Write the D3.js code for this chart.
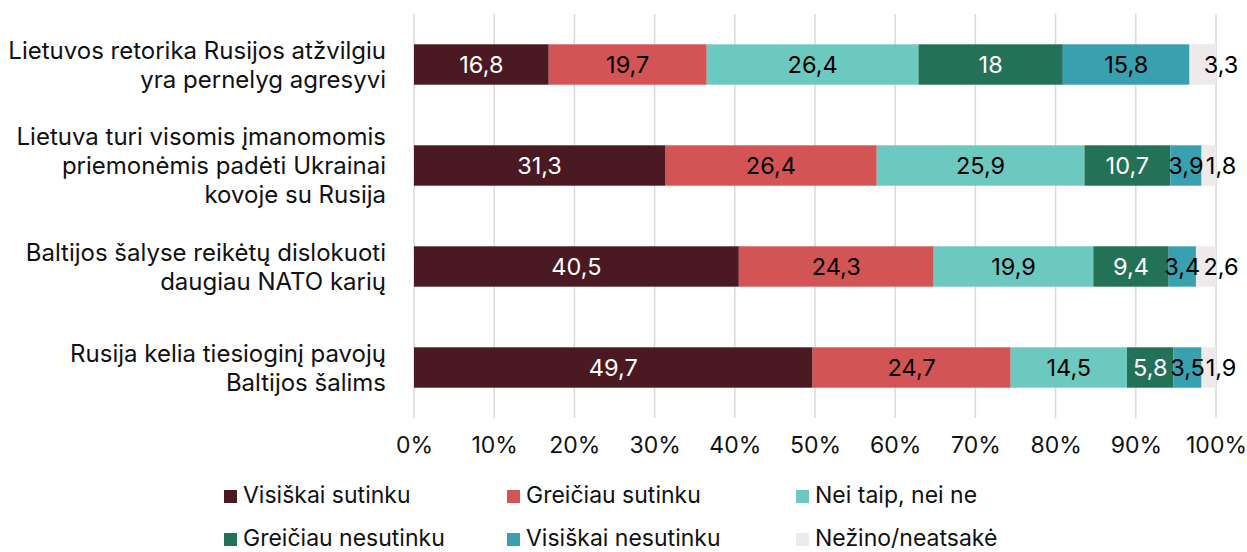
<!DOCTYPE html>
<html>
<head>
<meta charset="utf-8">
<script src="https://cdn.jsdelivr.net/npm/d3@7"></script>
<style>
  html, body { margin: 0; padding: 0; background: #fff; }
  svg { display: block; font-family: Inter, "Noto Sans", sans-serif; }
</style>
</head>
<body>
<svg id="chart" width="1247" height="552"></svg>
<script>
const categories = [
  ["Lietuvos retorika Rusijos atžvilgiu", "yra pernelyg agresyvi"],
  ["Lietuva turi visomis įmanomomis", "priemonėmis padėti Ukrainai", "kovoje su Rusija"],
  ["Baltijos šalyse reikėtų dislokuoti", "daugiau NATO karių"],
  ["Rusija kelia tiesioginį pavojų", "Baltijos šalims"]
];
const seriesNames = ["Visiškai sutinku", "Greičiau sutinku", "Nei taip, nei ne", "Greičiau nesutinku", "Visiškai nesutinku", "Nežino/neatsakė"];
const visiskaiSutinku   = [16.8, 31.3, 40.5, 49.7];
const greiciauSutinku   = [19.7, 26.4, 24.3, 24.7];
const neiTaipNeiNe      = [26.4, 25.9, 19.9, 14.5];
const greiciauNesutinku = [18, 10.7, 9.4, 5.8];
const visiskaiNesutinku = [15.8, 3.9, 3.4, 3.5];
const nezino            = [3.3, 1.8, 2.6, 1.9];
const tickValues = [0, 10, 20, 30, 40, 50, 60, 70, 80, 90, 100];

const seriesValues = [visiskaiSutinku, greiciauSutinku, neiTaipNeiNe, greiciauNesutinku, visiskaiNesutinku, nezino];
const colors = ["#4a1921", "#d35454", "#6cc9c0", "#237157", "#39a0b0", "#eee9ea"];
const labelColors = ["#fff", "#000", "#000", "#fff", "#000", "#000"];
const FS = 23;

const svg = d3.select("#chart");
const x = d3.scaleLinear().domain([0, 100]).range([414, 1216]);
const catIdx = categories.map((c, i) => i);
const y = d3.scaleBand().domain(catIdx).range([14, 418]).paddingInner(0.6).paddingOuter(0.3);

// gridlines
svg.append("g").selectAll("line").data(tickValues).join("line")
  .attr("x1", d => x(d)).attr("x2", d => x(d))
  .attr("y1", 14).attr("y2", 418)
  .attr("stroke", "#d9d9d9").attr("stroke-width", 1.5);

// stacked data
const rows = catIdx.map(i => {
  const o = {};
  seriesNames.forEach((s, k) => o[s] = seriesValues[k][i]);
  return o;
});
const stack = d3.stack().keys(seriesNames)(rows);

const g = svg.append("g");
stack.forEach((layer, k) => {
  g.append("g").selectAll("rect").data(layer).join("rect")
    .attr("x", d => x(d[0]))
    .attr("width", d => Math.max(0, Math.min(x(d[1]), x(100)) - x(d[0])))
    .attr("y", (d, i) => y(i))
    .attr("height", y.bandwidth())
    .attr("fill", colors[k]);
});
stack.forEach((layer, k) => {
  g.append("g").selectAll("text").data(layer).join("text")
    .attr("x", d => k === 5 ? x(100) + 5 : x((d[0] + d[1]) / 2))
    .attr("y", (d, i) => y(i) + y.bandwidth() / 2)
    .attr("dy", "0.36em")
    .attr("text-anchor", "middle")
    .attr("font-size", 23.5)
    .attr("fill", labelColors[k])
    .text((d, i) => String(seriesValues[k][i]).replace(".", ","));
});

// x axis
const xAxis = d3.axisBottom(x).tickValues(tickValues).tickFormat(d => d + "%").tickSize(0).tickPadding(0);
const ax = svg.append("g").attr("transform", "translate(0,453)").call(xAxis);
ax.select(".domain").remove();
ax.selectAll("text").attr("y", 0).attr("dy", 0)
  .attr("font-size", FS).attr("fill", "#111").attr("font-family", "Inter, 'Noto Sans', sans-serif");

// category labels
const lineH = 29;
categories.forEach((lines, i) => {
  const cy = y(i) + y.bandwidth() / 2;
  const t = svg.append("text").attr("text-anchor", "end").attr("font-size", 24).attr("fill", "#111");
  lines.forEach((ln, j) => {
    t.append("tspan").attr("x", 386)
      .attr("y", cy + (j - (lines.length - 1) / 2) * lineH)
      .attr("dy", "0.36em").text(ln);
  });
});

// legend
const legX = [224, 507, 796];
const legBase = [503, 546];
seriesNames.forEach((s, k) => {
  const lx = legX[k % 3], ly = legBase[Math.floor(k / 3)];
  svg.append("rect").attr("x", lx).attr("y", ly - 13).attr("width", 13).attr("height", 13).attr("fill", colors[k]);
  svg.append("text").attr("x", lx + 19).attr("y", ly)
    .attr("font-size", FS).attr("fill", "#111").text(s);
});
</script>
</body>
</html>
